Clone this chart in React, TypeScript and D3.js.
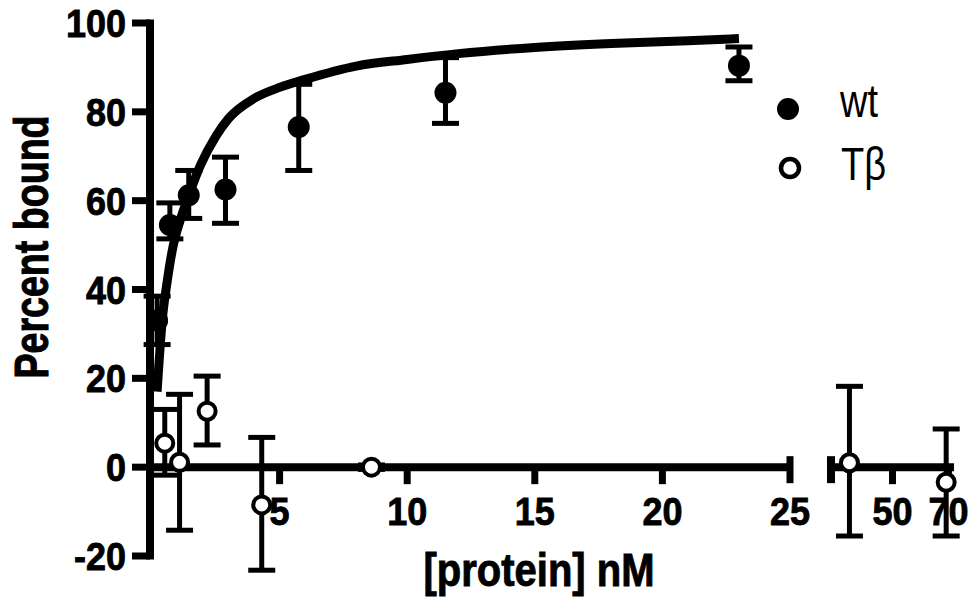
import * as d3 from "d3";

// wt (filled) data
const wtX = [0.2, 0.7, 1.44, 2.88, 5.75, 11.5, 23];
const wtY = [33, 54.5, 61.2, 62.5, 76.6, 84.3, 90.4];
const wtLow = [27.6, 51.4, 56, 54.9, 66.8, 77.4, 87];
const wtHigh = [38.5, 59.5, 66.8, 69.8, 86.2, 92.2, 94.6];

// Tβ (open) data
const tbX = [0.5, 1.08, 2.16, 4.3, 8.6, 34.6, 69.2];
const tbY = [5.4, 1.1, 12.6, -8.5, 0, 1, -3.4];
const tbLow = [-1.8, -14.2, 5, -23.2, -0.5, -15.5, -15.5];
const tbHigh = [13, 16.4, 20.5, 6.7, 0.5, 18.2, 8.6];

// fitted binding curve
const fitX = [0.2, 0.4, 0.6, 0.8, 1.1, 1.4, 1.9, 2.5, 3, 4, 5, 6, 8, 10, 12, 15, 18, 21, 23];
const fitY = [17, 33, 42, 49, 55.5, 60.5, 68, 74.5, 78.5, 83, 85.5, 87.3, 90.3, 91.8, 93.1, 94.5, 95.4, 96, 96.5];

const yTicks = [-20, 0, 20, 40, 60, 80, 100];
const xTicksA = [5, 10, 15, 20, 25];
const xTicksB = [50, 70];

const font = "'Liberation Sans', Arial, sans-serif";

export default function App() {
  const width = 972;
  const height = 597;

  const x1 = d3.scaleLinear([0, 25], [152, 790]);
  const x2 = d3.scaleLinear([28, 72], [831, 954]);
  const xPos = (v: number) => (v <= 25 ? x1(v) : x2(v));
  const y = d3.scaleLinear([-20, 100], [556, 23]);

  const axisX = 150;
  const y0 = y(0);

  const fit = d3
    .line<number>((d) => x1(d), (d, i) => y(fitY[i]))
    .curve(d3.curveMonotoneX);

  const errBar = (xs: number[], lo: number[], hi: number[], key: string) =>
    xs.map((v, i) => {
      const cx = xPos(v);
      return (
        <g key={key + i}>
          <line x1={cx} x2={cx} y1={y(lo[i])} y2={y(hi[i])} />
          <line x1={cx - 13.5} x2={cx + 13.5} y1={y(lo[i])} y2={y(lo[i])} />
          <line x1={cx - 13.5} x2={cx + 13.5} y1={y(hi[i])} y2={y(hi[i])} />
        </g>
      );
    });

  const bold = { fontWeight: "bold", stroke: "#000", strokeWidth: 0.8 } as const;

  return (
    <svg
      width={width}
      height={height}
      style={{ position: "absolute", left: 0, top: 0, background: "#fff" }}
      fontFamily={font}
    >
      {/* y axis */}
      <g stroke="#000" strokeWidth={7}>
        <line x1={axisX} x2={axisX} y1={y(100) - 3.5} y2={y(-20) + 3.5} strokeWidth={8} />
        {yTicks.map((t) => (
          <line key={t} x1={132} x2={axisX} y1={y(t)} y2={y(t)} />
        ))}
      </g>
      {yTicks.map((t) => (
        <text
          key={t}
          transform={`translate(126,${y(t) + 14}) scale(1,1.09)`}
          textAnchor="end"
          fontSize={36}
          {...bold}
        >
          {t}
        </text>
      ))}

      {/* x axis, broken */}
      <g stroke="#000">
        <line x1={axisX} x2={x1(25)} y1={y0} y2={y0} strokeWidth={8} />
        {xTicksA.slice(0, -1).map((t) => (
          <line key={t} x1={x1(t)} x2={x1(t)} y1={y0} y2={y0 + 17} strokeWidth={7} />
        ))}
        <line x1={x1(25)} x2={x1(25)} y1={y0 - 11} y2={y0 + 16} strokeWidth={7} />
        <line x1={x2(28)} x2={x2(72)} y1={y0} y2={y0} strokeWidth={8} />
        <line x1={x2(28)} x2={x2(28)} y1={y0 - 11} y2={y0 + 16} strokeWidth={8} />
        {xTicksB.map((t) => (
          <line key={t} x1={x2(t)} x2={x2(t)} y1={y0} y2={y0 + 17} strokeWidth={7} />
        ))}
      </g>
      {[...xTicksA, ...xTicksB].map((t) => (
        <text
          key={t}
          transform={`translate(${xPos(t)},525) scale(1,1.09)`}
          textAnchor="middle"
          fontSize={36}
          {...bold}
        >
          {t}
        </text>
      ))}

      {/* axis titles */}
      <text
        transform="translate(539,586) scale(1,1.15)"
        textAnchor="middle"
        fontSize={40}
        {...bold}
      >
        [protein] nM
      </text>
      <text
        transform="translate(48,247) rotate(-90) scale(1,1.3)"
        textAnchor="middle"
        fontSize={37.6}
        {...bold}
      >
        Percent bound
      </text>

      {/* fit curve */}
      <path d={fit(fitX) || ""} fill="none" stroke="#000" strokeWidth={9} strokeLinejoin="round" />

      {/* error bars */}
      <g stroke="#000" strokeWidth={5}>
        {errBar(wtX, wtLow, wtHigh, "wt")}
        {errBar(tbX, tbLow, tbHigh, "tb")}
      </g>

      {/* points */}
      {wtX.map((v, i) => (
        <circle key={"w" + i} cx={xPos(v)} cy={y(wtY[i])} r={11} fill="#000" />
      ))}
      {tbX.map((v, i) => (
        <circle
          key={"t" + i}
          cx={xPos(v)}
          cy={y(tbY[i])}
          r={8.5}
          fill="#fff"
          stroke="#000"
          strokeWidth={4}
        />
      ))}

      {/* legend */}
      <circle cx={788} cy={109} r={11} fill="#000" />
      <text transform="translate(840,117) scale(1,1.22)" fontSize={38}>
        wt
      </text>
      <circle cx={790} cy={168} r={9} fill="#fff" stroke="#000" strokeWidth={4.5} />
      <text transform="translate(841,180) scale(1,1.22)" fontSize={38}>
        Tβ
      </text>
    </svg>
  );
}
